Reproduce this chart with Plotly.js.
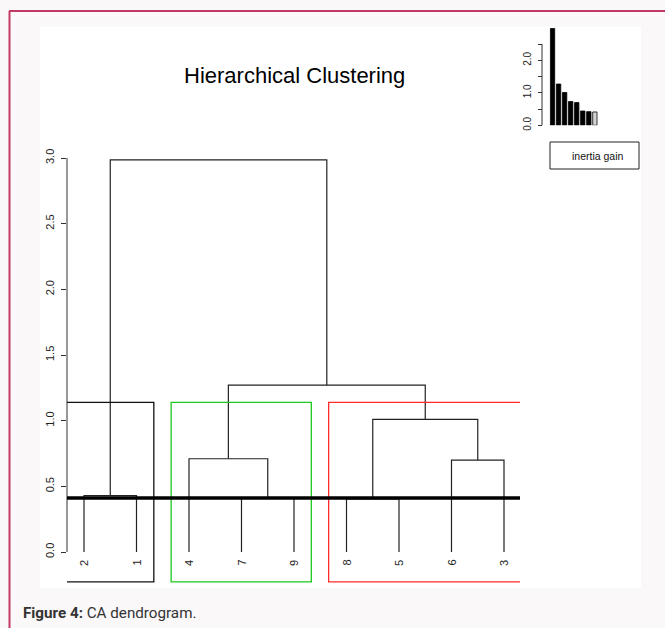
<!DOCTYPE html>
<html>
<head>
<meta charset="utf-8">
<script src="https://cdn.plot.ly/plotly-3.0.1.min.js"></script>
<style>
html,body{margin:0;padding:0;background:#faf8f9;}
#chart{width:665px;height:628px;}
</style>
</head>
<body>
<div id="chart"></div>
<script>
// ---- data ----
const leafOrder = ["2", "1", "4", "7", "9", "8", "5", "6", "3"];
// R-style merge matrix: negative = observation label, positive = earlier merge step
const mergeA = [-7, -8, -2, -6, -4, 2, 5, 3];
const mergeB = [-9, -5, -1, -3, 1, 4, 6, 7];
const mergeHeight = [0.41, 0.405, 0.43, 0.70, 0.71, 1.01, 1.27, 2.985];
const clusterSizes = [2, 3, 4];
const clusterColors = ["#111111", "#1ec81e", "#ff2a2a"];
const cutHeight = 0.411;
const yTicks = [0, 0.5, 1, 1.5, 2, 2.5, 3];
const yTickText = ["0.0", "0.5", "1.0", "1.5", "2.0", "2.5", "3.0"];
const inertiaGain = [2.98, 1.27, 1.01, 0.73, 0.70, 0.44, 0.42, 0.41];
const inertiaTicks = [0, 0.5, 1, 1.5, 2, 2.5];
const inertiaTickText = ["0.0", "", "1.0", "", "2.0", ""];
const titleText = "Hierarchical Clustering";
const legendText = "inertia gain";
const captionText = "<b>Figure 4:</b> CA dendrogram.";

// ---- geometry helpers (figure px -> paper fractions) ----
const W = 665, H = 628;
const px = v => v / W;
const py = v => 1 - v / H;

// ---- build dendrogram segments ----
const leafPos = {};
leafOrder.forEach((l, i) => { leafPos[l] = i + 1; });
const nodeX = [], nodeH = [];
function childInfo(c) {
  if (c < 0) return { x: leafPos[String(-c)], h: 0 };
  return { x: nodeX[c - 1], h: nodeH[c - 1] };
}
const dx = [], dy = [];
for (let i = 0; i < mergeA.length; i++) {
  const a = childInfo(mergeA[i]), b = childInfo(mergeB[i]);
  const h = mergeHeight[i];
  dx.push(a.x, a.x, b.x, b.x, null);
  dy.push(a.h, h, h, b.h, null);
  nodeX.push((a.x + b.x) / 2);
  nodeH.push(h);
}

// ---- main axis ranges ----
const yBottom = -0.236, yTop = 3.1066;
const xLeft = 0.6762, xRight = 9.3048;
const rectBottom = -0.228;
const sortedH = mergeHeight.slice().sort((p, q) => q - p);
const k = clusterSizes.length;
const rectTop = (sortedH[k - 2] + sortedH[k - 1]) / 2;

const shapes = [];
// white image area
shapes.push({type: "rect", xref: "paper", yref: "paper", x0: px(40), x1: px(641), y0: py(588), y1: py(27),
  fillcolor: "#ffffff", line: {width: 0}, layer: "below"});
// crimson frame
shapes.push({type: "line", xref: "paper", yref: "paper", x0: px(9.5), x1: px(9.5), y0: py(11), y1: py(628),
  line: {color: "#c03a64", width: 2}});
shapes.push({type: "line", xref: "paper", yref: "paper", x0: px(9), x1: px(665), y0: py(11), y1: py(11),
  line: {color: "#c03a64", width: 2}});
// main y axis line (0 .. 3)
shapes.push({type: "line", xref: "paper", yref: "y", x0: px(67), x1: px(67), y0: yTicks[0], y1: yTicks[yTicks.length - 1],
  line: {color: "#333333", width: 1}});
// cluster rectangles
let m = 0;
clusterSizes.forEach((s, i) => {
  shapes.push({type: "rect", xref: "x", yref: "y", x0: m + 0.66, x1: m + s + 0.33, y0: rectBottom, y1: rectTop,
    line: {color: clusterColors[i], width: 1.3}, fillcolor: "rgba(0,0,0,0)"});
  m += s;
});
// cut line
shapes.push({type: "line", xref: "x", yref: "y", x0: xLeft, x1: xRight, y0: cutHeight, y1: cutHeight,
  line: {color: "#000000", width: 3.5}});
// inset axis line
shapes.push({type: "line", xref: "paper", yref: "y2", x0: px(542), x1: px(542), y0: inertiaTicks[0], y1: inertiaTicks[inertiaTicks.length - 1],
  line: {color: "#333333", width: 1}});
// inset legend box
shapes.push({type: "rect", xref: "paper", yref: "paper", x0: px(550), x1: px(639), y0: py(169), y1: py(142),
  line: {color: "#222222", width: 1}, fillcolor: "#ffffff"});

const annotations = [];
annotations.push({text: titleText, xref: "paper", yref: "paper", x: px(294), y: py(75), showarrow: false,
  xanchor: "center", yanchor: "middle", font: {family: "Liberation Sans, Arial, sans-serif", size: 22, color: "#000"}});
leafOrder.forEach((l, i) => {
  annotations.push({text: l, xref: "x", yref: "y", x: i + 1, y: 0, yshift: -11, showarrow: false,
    textangle: -90, xanchor: "center", yanchor: "middle",
    font: {family: "Liberation Sans, Arial, sans-serif", size: 11, color: "#222"}});
});
annotations.push({text: legendText, xref: "paper", yref: "paper", x: px(598), y: py(155.5), showarrow: false,
  xanchor: "center", yanchor: "middle", font: {family: "Liberation Sans, Arial, sans-serif", size: 10.5, color: "#111"}});
annotations.push({text: captionText, xref: "paper", yref: "paper", x: px(21), y: py(613), showarrow: false,
  xanchor: "left", yanchor: "middle", font: {family: "Roboto, Liberation Sans, Arial, sans-serif", size: 15.2, color: "#333"}});

const traces = [
  {type: "scatter", mode: "lines", x: dx, y: dy, xaxis: "x", yaxis: "y", connectgaps: false,
   line: {color: "#222222", width: 1.2}, hoverinfo: "skip", showlegend: false},
  {type: "bar", x: inertiaGain.map((v, i) => i + 1), y: inertiaGain, xaxis: "x2", yaxis: "y2",
   marker: {color: inertiaGain.map((v, i) => i < inertiaGain.length - 1 ? "#000000" : "#d3d3d3"),
            line: {color: "#000000", width: 0.8}},
   width: 0.72, hoverinfo: "skip", showlegend: false}
];

const layout = {
  width: W, height: H,
  margin: {l: 0, r: 0, t: 0, b: 0, pad: 0},
  paper_bgcolor: "#faf8f9",
  plot_bgcolor: "rgba(0,0,0,0)",
  showlegend: false,
  xaxis: {domain: [px(67), px(520)], range: [xLeft, xRight], visible: false, fixedrange: true},
  yaxis: {domain: [py(583), py(144)], range: [yBottom, yTop], anchor: "x",
    tickvals: yTicks, ticktext: yTickText, ticks: "outside", ticklen: 5, tickwidth: 1, tickcolor: "#333",
    tickangle: -90, showline: false, showgrid: false, zeroline: false, ticklabelstandoff: 3,
    tickfont: {family: "Liberation Sans, Arial, sans-serif", size: 11, color: "#222"}, fixedrange: true},
  xaxis2: {domain: [px(549.5), px(597.9)], range: [0.5, 8.5], anchor: "y2", visible: false, fixedrange: true},
  yaxis2: {domain: [py(125.3), py(27.8)], range: [0, 3], anchor: "free", position: px(542),
    tickvals: inertiaTicks, ticktext: inertiaTickText, ticks: "outside", ticklen: 4, tickwidth: 1, tickcolor: "#333",
    tickangle: -90, showline: false, showgrid: false, zeroline: false, ticklabelstandoff: 3,
    tickfont: {family: "Liberation Sans, Arial, sans-serif", size: 10, color: "#222"}, fixedrange: true},
  shapes: shapes,
  annotations: annotations
};

Plotly.newPlot("chart", traces, layout, {displayModeBar: false, staticPlot: true});
</script>
</body>
</html>
